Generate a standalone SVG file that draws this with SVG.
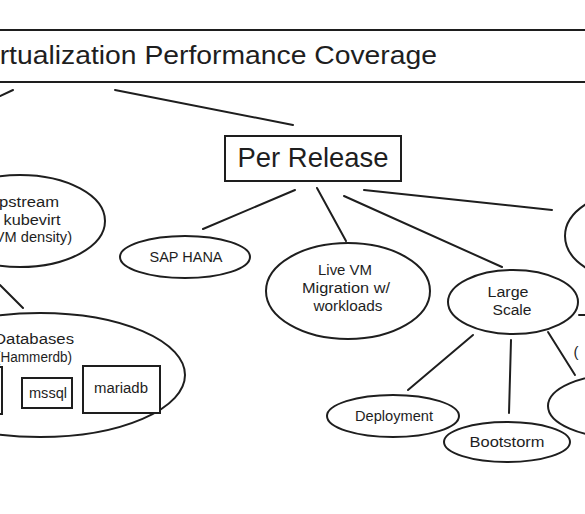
<svg xmlns="http://www.w3.org/2000/svg" width="585" height="514" viewBox="0 0 585 514">
<style>
.s{fill:none;stroke:#1e1e1e;stroke-width:2;stroke-linecap:round;stroke-linejoin:round}
.n{fill:#fff;stroke:#1e1e1e;stroke-width:2}
.t{font-family:"Liberation Sans",Arial,sans-serif;fill:#1e1e1e;text-anchor:middle}
.c{stroke:#1e1e1e;stroke-width:2;stroke-linecap:round;fill:none}
</style>
<rect width="585" height="514" fill="#fff"/>
<g id="connectors">
<line class="c" x1="0" y1="96" x2="13" y2="90"/>
<line class="c" x1="115" y1="90" x2="293" y2="125"/>
<line class="c" x1="295" y1="190" x2="203" y2="229"/>
<line class="c" x1="317" y1="188" x2="346" y2="241"/>
<line class="c" x1="344" y1="196" x2="502" y2="267"/>
<line class="c" x1="364" y1="190" x2="552" y2="210"/>
<line class="c" x1="473" y1="335" x2="408" y2="390"/>
<line class="c" x1="511" y1="340" x2="509" y2="413"/>
<line class="c" x1="548" y1="332" x2="575" y2="375"/>
<line class="c" x1="579" y1="315" x2="586" y2="315"/>
<line class="c" x1="0" y1="285" x2="23" y2="308"/>
</g>
<g id="title">
<rect class="n" x="-10" y="30" width="605" height="52"/>
<text class="t" x="206" y="64" font-size="26" textLength="462" lengthAdjust="spacingAndGlyphs">Virtualization Performance Coverage</text>
</g>
<g id="per-release">
<rect class="n" x="225" y="136" width="176" height="45"/>
<text class="t" x="313" y="167" font-size="28" textLength="151" lengthAdjust="spacingAndGlyphs">Per Release</text>
</g>
<g id="upstream">
<ellipse class="n" cx="20" cy="221" rx="85" ry="46"/>
<text class="t" x="23" y="207" font-size="14" textLength="72" lengthAdjust="spacingAndGlyphs">Upstream</text>
<text class="t" x="32" y="225" font-size="14" textLength="57" lengthAdjust="spacingAndGlyphs">kubevirt</text>
<text class="t" x="31" y="242" font-size="14" textLength="82" lengthAdjust="spacingAndGlyphs">(VM density)</text>
</g>
<g id="sap-hana">
<ellipse class="n" cx="185" cy="257" rx="65" ry="21"/>
<text class="t" x="186" y="262" font-size="14" textLength="73" lengthAdjust="spacingAndGlyphs">SAP HANA</text>
</g>
<g id="live-vm">
<ellipse class="n" cx="348" cy="291" rx="82" ry="48"/>
<text class="t" x="345" y="275" font-size="14" textLength="54" lengthAdjust="spacingAndGlyphs">Live VM</text>
<text class="t" x="346" y="293" font-size="14" textLength="88" lengthAdjust="spacingAndGlyphs">Migration w/</text>
<text class="t" x="348" y="311" font-size="14" textLength="69" lengthAdjust="spacingAndGlyphs">workloads</text>
</g>
<g id="large-scale">
<ellipse class="n" cx="513" cy="302" rx="65" ry="32"/>
<text class="t" x="508" y="297" font-size="14" textLength="41" lengthAdjust="spacingAndGlyphs">Large</text>
<text class="t" x="512" y="315" font-size="14" textLength="39" lengthAdjust="spacingAndGlyphs">Scale</text>
</g>
<g id="deployment">
<ellipse class="n" cx="393" cy="416" rx="66" ry="21"/>
<text class="t" x="394" y="421" font-size="14" textLength="78" lengthAdjust="spacingAndGlyphs">Deployment</text>
</g>
<g id="bootstorm">
<ellipse class="n" cx="507" cy="442" rx="63" ry="20"/>
<text class="t" x="507" y="447" font-size="14" textLength="75" lengthAdjust="spacingAndGlyphs">Bootstorm</text>
</g>
<g id="right-top">
<ellipse class="n" cx="640" cy="236" rx="75" ry="46"/>
</g>
<g id="right-bottom">
<ellipse class="n" cx="622" cy="406" rx="74" ry="32"/>
</g>
<g id="right-label">
<text class="t" x="576" y="357" font-size="15">(</text>
</g>
<g id="databases">
<ellipse class="n" cx="40" cy="375" rx="145" ry="62"/>
<text class="t" x="34" y="344" font-size="14" textLength="80" lengthAdjust="spacingAndGlyphs">Databases</text>
<text class="t" x="34" y="362" font-size="14" textLength="76" lengthAdjust="spacingAndGlyphs">(Hammerdb)</text>
<rect class="n" x="-40" y="367" width="42" height="47"/>
<rect class="n" x="22" y="378" width="50" height="30"/>
<text class="t" x="48" y="398" font-size="14" textLength="38" lengthAdjust="spacingAndGlyphs">mssql</text>
<rect class="n" x="83" y="366" width="77" height="47"/>
<text class="t" x="121" y="393" font-size="14" textLength="54" lengthAdjust="spacingAndGlyphs">mariadb</text>
</g>
</svg>
